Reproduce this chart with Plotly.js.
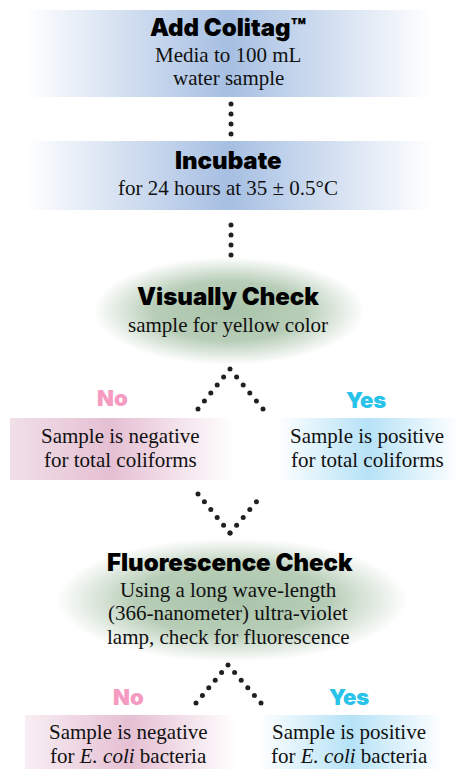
<!DOCTYPE html>
<html>
<head>
<meta charset="utf-8">
<script src="https://cdn.plot.ly/plotly-3.0.1.min.js"></script>
<style>html,body{margin:0;padding:0;background:#fff;}#chart{width:461px;height:769px;}</style>
</head>
<body>
<div id="chart"></div>
<script>
// ---- data: flowchart content ----
const stepTitles = ['Add Colitag™', 'Incubate', 'Visually Check', 'Fluorescence Check'];
const stepLines = [
  ['Media to 100 mL', 'water sample'],
  ['for 24 hours at 35 ± 0.5°C'],
  ['sample for yellow color'],
  ['Using a long wave-length', '(366-nanometer) ultra-violet', 'lamp, check for fluorescence']
];
const branchLabels = ['No', 'Yes'];
const outcomeLines1 = [
  ['Sample is negative', 'for total coliforms'],
  ['Sample is positive', 'for total coliforms']
];
const outcomeLines2 = [
  ['Sample is negative', 'for <i>E. coli</i> bacteria'],
  ['Sample is positive', 'for <i>E. coli</i> bacteria']
];

// ---- geometry (pixel space) ----
const W = 461, H = 769;
const SERIF = 'Liberation Serif, DejaVu Serif, serif';
const HEAVY = 'Inter, Roboto, Liberation Sans, sans-serif';
const BLUE = '#a6bfe2', PINK = '#e5bfd3', CYAN = '#b6e2f7', GREEN = '#a9c4aa';

const traces = [];
const annotations = [];

function rect(x0, x1, y0, y1, colorscale) {
  traces.push({
    type: 'scatter', mode: 'lines', x: [x0, x1, x1, x0, x0], y: [y0, y0, y1, y1, y0],
    fill: 'toself', line: {width: 0, color: 'rgba(0,0,0,0)'},
    fillgradient: {type: 'horizontal', colorscale: colorscale},
    hoverinfo: 'skip'
  });
}
function ellipse(cx, cy, rx, ry, colorscale) {
  const xs = [], ys = [];
  for (let i = 0; i <= 96; i++) {
    const t = i / 96 * 2 * Math.PI;
    xs.push(cx + rx * Math.cos(t)); ys.push(cy + ry * Math.sin(t));
  }
  traces.push({
    type: 'scatter', mode: 'lines', x: xs, y: ys, fill: 'toself',
    line: {width: 0, color: 'rgba(0,0,0,0)'},
    fillgradient: {type: 'radial', colorscale: colorscale},
    hoverinfo: 'skip'
  });
}
function dots(points) {
  const xs = [], ys = [];
  points.forEach(([a, b, n, skipFirst]) => {
    for (let i = skipFirst ? 1 : 0; i <= n; i++) {
      xs.push(a[0] + (b[0] - a[0]) * i / n);
      ys.push(a[1] + (b[1] - a[1]) * i / n);
    }
  });
  traces.push({type: 'scatter', mode: 'markers', x: xs, y: ys,
    marker: {size: 5, color: '#231f20'}, hoverinfo: 'skip'});
}
function text(t, x, y, font) {
  annotations.push({text: t, x: x, y: y, xref: 'x', yref: 'y', showarrow: false,
    xanchor: 'center', yanchor: 'middle', font: font});
}
const titleFont = {family: HEAVY, size: 24, color: '#000', weight: 900};
const bodyFont = {family: SERIF, size: 21, color: '#111'};

// step boxes
rect(25, 432, 10, 97, [[0, 'rgba(255,255,255,1)'], [0.5, BLUE], [1, 'rgba(255,255,255,1)']]);
rect(25, 432, 141, 210, [[0, 'rgba(255,255,255,1)'], [0.5, BLUE], [1, 'rgba(255,255,255,1)']]);
ellipse(229, 311, 136, 54, [[0, GREEN], [0.55, '#b7cdb7'], [1, '#ffffff']]);
ellipse(232, 600, 176, 62, [[0, GREEN], [0.55, '#b7cdb7'], [1, '#ffffff']]);
// outcome boxes
rect(10, 234, 418, 480, [[0, '#f1e0e8'], [0.45, PINK], [1, '#ffffff']]);
rect(276, 460, 418, 480, [[0, '#ffffff'], [0.5, CYAN], [1, '#ffffff']]);
rect(25, 236, 715, 769, [[0, '#f8eef3'], [0.5, PINK], [1, '#ffffff']]);
rect(258, 444, 715, 769, [[0, '#ffffff'], [0.5, CYAN], [1, '#ffffff']]);

// connectors
dots([
  [[231, 104], [231, 134], 3],
  [[231, 225], [231, 255], 3],
  [[230, 369], [198, 409], 5], [[230, 369], [263, 409], 5, true],
  [[198, 494], [230, 533], 5], [[263, 494], [230, 533], 5, true],
  [[228, 665], [196, 703], 5], [[228, 665], [261, 703], 5, true]
]);

// step text
text(stepTitles[0], 228, 27, titleFont);
text(stepLines[0][0], 228, 54.5, bodyFont);
text(stepLines[0][1], 228, 78, bodyFont);
text(stepTitles[1], 228, 160, titleFont);
text(stepLines[1][0], 228, 187.5, bodyFont);
text(stepTitles[2], 228, 296, titleFont);
text(stepLines[2][0], 228, 324.5, bodyFont);
text(stepTitles[3], 230, 562, titleFont);
stepLines[3].forEach((l, i) => text(l, 228, 589.5 + i * 23.5, bodyFont));

// branch labels
const noFont = {family: HEAVY, size: 22, color: '#f59bc2', weight: 900};
const yesFont = {family: HEAVY, size: 22, color: '#29c2e8', weight: 900};
text(branchLabels[0], 112, 398, noFont);
text(branchLabels[1], 366, 400, yesFont);
text(branchLabels[0], 128, 697, noFont);
text(branchLabels[1], 349, 697, yesFont);

// outcomes
outcomeLines1[0].forEach((l, i) => text(l, 120, 436 + i * 23.5, bodyFont));
outcomeLines1[1].forEach((l, i) => text(l, 367, 436 + i * 23.5, bodyFont));
outcomeLines2[0].forEach((l, i) => text(l, 128, 732 + i * 23.5, bodyFont));
outcomeLines2[1].forEach((l, i) => text(l, 349, 732 + i * 23.5, bodyFont));

const layout = {
  width: W, height: H, margin: {l: 0, r: 0, t: 0, b: 0},
  paper_bgcolor: '#fff', plot_bgcolor: '#fff', showlegend: false,
  xaxis: {range: [0, W], visible: false, fixedrange: true},
  yaxis: {range: [H, 0], visible: false, fixedrange: true},
  annotations: annotations
};
Plotly.newPlot('chart', traces, layout, {staticPlot: true, displayModeBar: false});
</script>
</body>
</html>
